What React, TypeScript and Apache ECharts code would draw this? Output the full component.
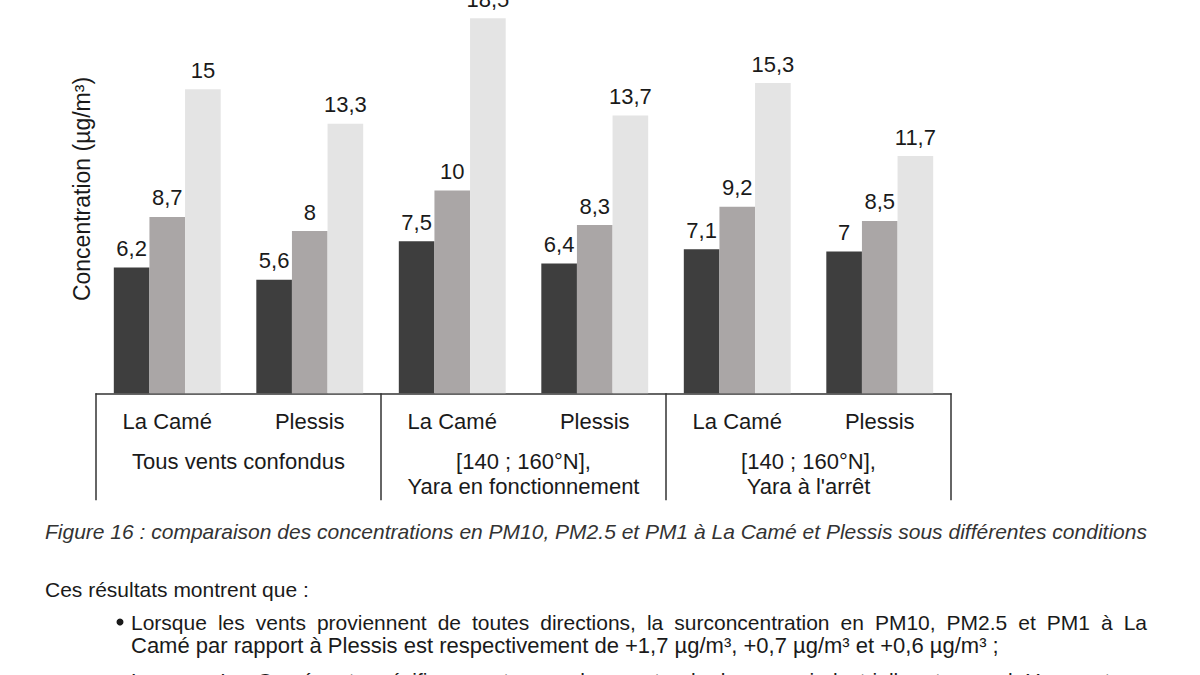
import React, { useEffect, useRef } from "react";
import * as echarts from "echarts";

const categories = ["La Camé", "Plessis", "La Camé", "Plessis", "La Camé", "Plessis"];
const groups = ["Tous vents confondus", "[140 ; 160°N],\nYara en fonctionnement", "[140 ; 160°N],\nYara à l'arrêt"];
const seriesNames = ["PM1", "PM2.5", "PM10"];
const pm1 = [6.2, 5.6, 7.5, 6.4, 7.1, 7];
const pm25 = [8.7, 8, 10, 8.3, 9.2, 8.5];
const pm10 = [15, 13.3, 18.5, 13.7, 15.3, 11.7];
const colors = ["#3e3e3e", "#aaa6a6", "#e4e4e4"];

const yName = "Concentration (µg/m³)";
const caption = "Figure 16 : comparaison des concentrations en PM10, PM2.5 et PM1 à La Camé et Plessis sous différentes conditions";
const intro = "Ces résultats montrent que :";
const bullet1 = [
  "Lorsque les vents proviennent de toutes directions, la surconcentration en PM10, PM2.5 et PM1 à La",
  "Camé par rapport à Plessis est respectivement de +1,7 µg/m³, +0,7 µg/m³ et +0,6 µg/m³ ;",
];
const bullet2 = "Lorsque La Camé est spécifiquement sous les vents de la zone industrielle et quand Yara est en";

const FONT = "'Liberation Sans', Arial, Helvetica, sans-serif";

function measure(text: string, font: string): number {
  const ctx = document.createElement("canvas").getContext("2d");
  if (!ctx) return text.length * 10;
  ctx.font = font;
  return ctx.measureText(text).width;
}

function justified(text: string, x0: number, x1: number, y: number, size: number): any[] {
  const words = text.split(" ");
  const font = `${size}px ${FONT}`;
  const widths = words.map((w) => measure(w, font));
  const total = widths.reduce((a, b) => a + b, 0);
  const gap = (x1 - x0 - total) / (words.length - 1);
  const out: any[] = [];
  let x = x0;
  words.forEach((w, i) => {
    out.push({
      type: "text",
      x,
      y,
      style: { text: w, fontSize: size, fontFamily: FONT, fill: "#1a1a1a", textAlign: "left", textVerticalAlign: "middle" },
    });
    x += widths[i] + gap;
  });
  return out;
}

export default function App() {
  const ref = useRef<HTMLDivElement>(null);
  useEffect(() => {
    if (!ref.current) return;
    const chart = echarts.init(ref.current, null, { renderer: "svg" });
    const bodySize = 21;
    const labelStyle = {
      show: true,
      position: "top" as const,
      distance: 8,
      fontSize: 22,
      fontFamily: FONT,
      color: "#1a1a1a",
      formatter: (p: any) => String(p.value).replace(".", ","),
    };
    const data = [pm1, pm25, pm10];
    chart.setOption({
      animation: false,
      backgroundColor: "#ffffff",
      grid: { left: 96, right: 249, top: 0, bottom: 281.7, containLabel: false },
      xAxis: [
        {
          type: "category",
          data: categories,
          axisLine: { show: true, lineStyle: { color: "#333333", width: 1.5 } },
          axisTick: { show: false },
          axisLabel: { margin: 16, fontSize: 22, lineHeight: 24, fontFamily: FONT, color: "#1a1a1a", interval: 0 },
          splitLine: { show: false },
        },
        {
          type: "category",
          data: groups,
          position: "bottom",
          axisLine: { show: false },
          axisTick: { show: true, length: 107, lineStyle: { color: "#333333", width: 1.5 } },
          axisLabel: { margin: 56, fontSize: 22, lineHeight: 25, fontFamily: FONT, color: "#1a1a1a", interval: 0 },
          splitLine: { show: false },
        },
      ],
      yAxis: {
        type: "value",
        min: 0,
        max: 19.4,
        axisLine: { show: false },
        axisTick: { show: false },
        axisLabel: { show: false },
        splitLine: { show: false },
      },
      series: data.map((d, i) => ({
        name: seriesNames[i],
        type: "bar",
        xAxisIndex: 0,
        data: d,
        barGap: "0%",
        barCategoryGap: "25%",
        itemStyle: { color: colors[i] },
        label: labelStyle,
      })),
      graphic: [
        {
          type: "text",
          x: 82,
          y: 189,
          rotation: Math.PI / 2,
          style: { text: yName, fontSize: 23, fontFamily: FONT, fill: "#1a1a1a", textAlign: "center", textVerticalAlign: "middle" },
        },
        {
          type: "text",
          x: 45,
          y: 531,
          style: { text: caption, fontSize: 21, fontStyle: "italic", fontFamily: FONT, fill: "#333333", textAlign: "left", textVerticalAlign: "middle" },
        },
        {
          type: "text",
          x: 45,
          y: 589,
          style: { text: intro, fontSize: bodySize, fontFamily: FONT, fill: "#1a1a1a", textAlign: "left", textVerticalAlign: "middle" },
        },
        { type: "circle", shape: { cx: 120, cy: 622, r: 3.5 }, style: { fill: "#1a1a1a" } },
        ...justified(bullet1[0], 131, 1147, 622, bodySize),
        {
          type: "text",
          x: 131,
          y: 645,
          style: { text: bullet1[1], fontSize: 22, fontFamily: FONT, fill: "#1a1a1a", textAlign: "left", textVerticalAlign: "middle" },
        },
        { type: "circle", shape: { cx: 120, cy: 682, r: 3.5 }, style: { fill: "#1a1a1a" } },
        ...justified(bullet2, 131, 1147, 680, bodySize),
      ],
    });
    return () => chart.dispose();
  }, []);
  return <div ref={ref} style={{ position: "absolute", left: 0, top: 0, width: 1200, height: 675 }} />;
}
